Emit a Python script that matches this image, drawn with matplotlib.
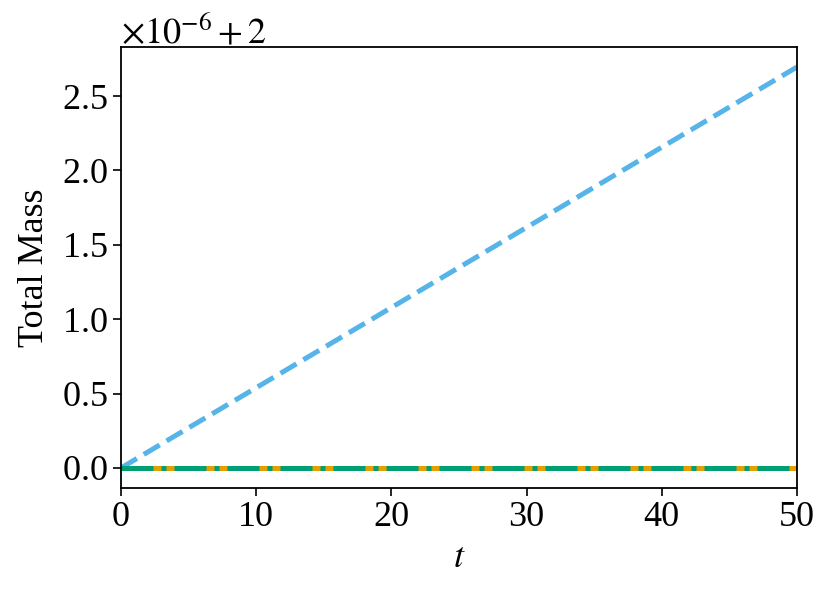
import matplotlib
matplotlib.use("Agg")
import matplotlib.pyplot as plt
from matplotlib.ticker import ScalarFormatter

# time points and total mass of the three schemes
t = [0, 10, 20, 30, 40, 50]
mass_blue = [2.0, 2.000000539, 2.000001078, 2.000001617, 2.000002156, 2.000002695]
mass_orange = [2.0, 2.0, 2.0, 2.0, 2.0, 2.0]
mass_green = [2.0, 2.0, 2.0, 2.0, 2.0, 2.0]


class OffsetFormatter(ScalarFormatter):
    # same as ScalarFormatter, but with spaces around the plus sign
    def get_offset(self):
        return r'$\times10^{-6} + 2$'


plt.rcParams['font.family'] = ['Liberation Serif', 'DejaVu Serif']
plt.rcParams['mathtext.fontset'] = 'stix'
plt.rcParams['font.size'] = 26

fig = plt.figure(figsize=(8.31, 5.98), dpi=100)
ax = fig.add_axes([0.1456, 0.184, 0.8134, 0.7374])

ax.plot(t, mass_blue, color='#56B4E9', linestyle='--', linewidth=3.6)
ax.plot(t, mass_orange, color='#E69F00', linestyle='-', linewidth=3.6)
ax.plot(t, mass_green, color='#009E73', linestyle='-.', linewidth=3.6)

ax.set_xlim(0, 50)
ax.set_xticks([0, 10, 20, 30, 40, 50])
ax.set_yticks([2.0, 2.0000005, 2.000001, 2.0000015, 2.000002, 2.0000025])

fmt = OffsetFormatter(useMathText=True)
ax.yaxis.set_major_formatter(fmt)

ax.set_xlabel('$t$', labelpad=6)
ax.set_ylabel('Total Mass', labelpad=8)
ax.tick_params(length=6, width=1.2)
for s in ax.spines.values():
    s.set_linewidth(1.3)

fig.savefig('out.png', dpi=100)
